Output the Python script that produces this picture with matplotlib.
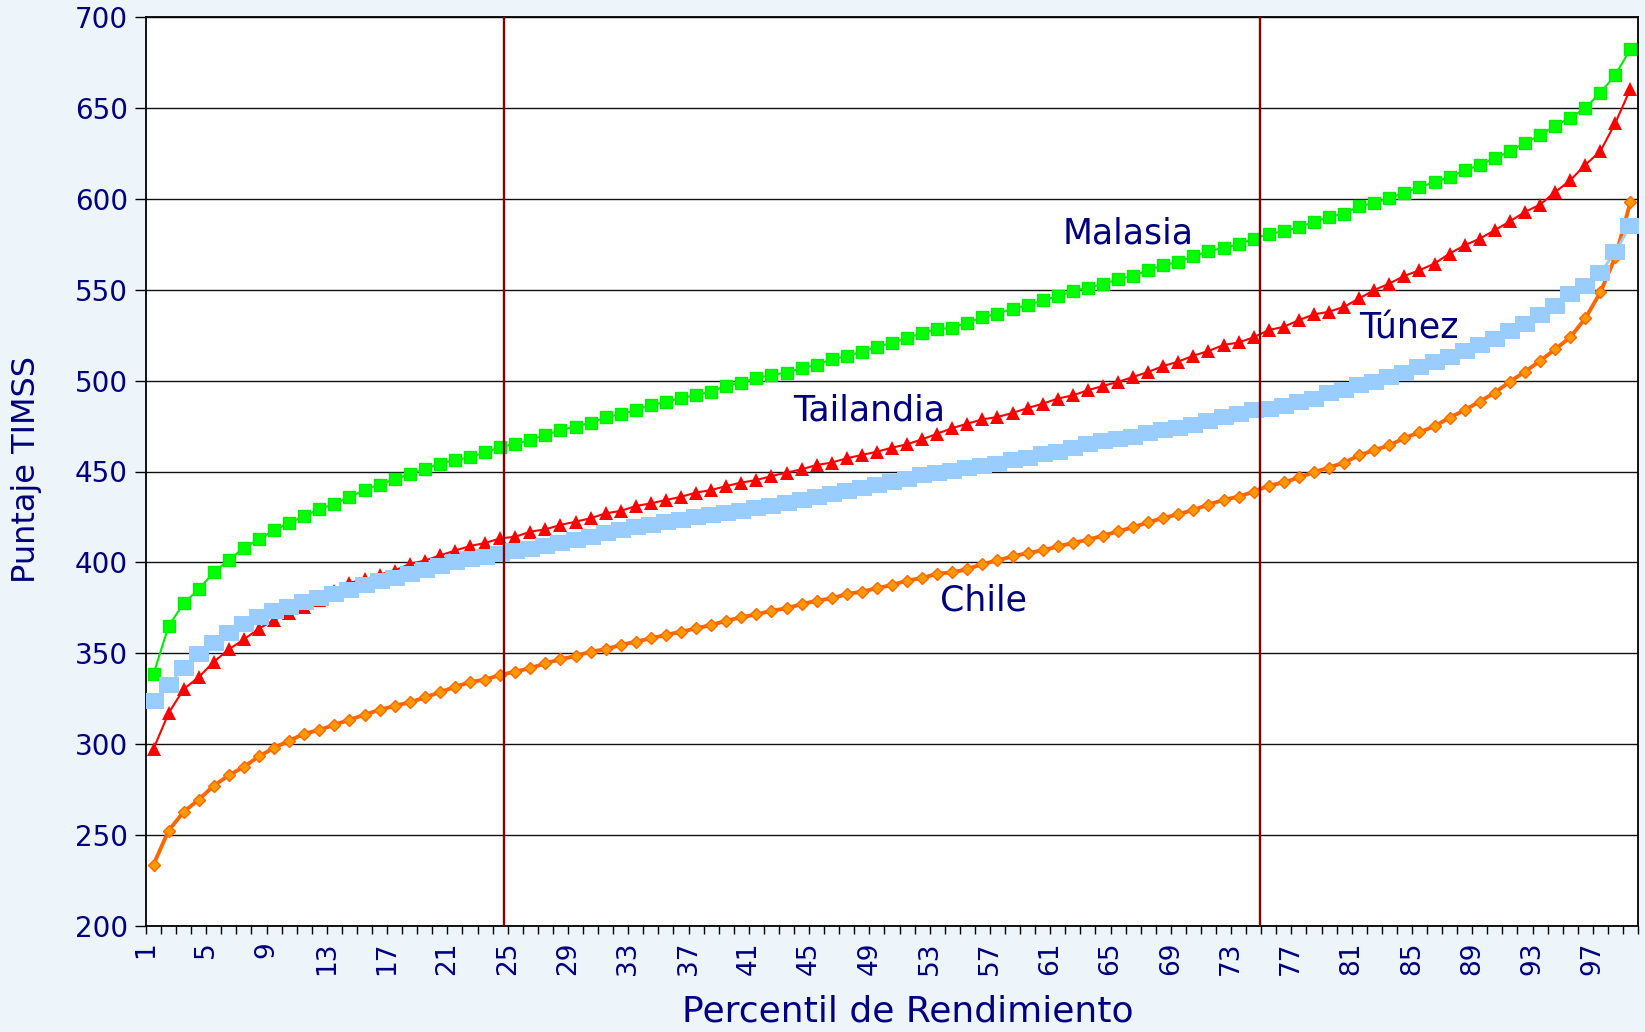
import numpy as np
import matplotlib.pyplot as plt
from matplotlib.path import Path

# percentil 1..99
percentil = np.arange(1, 100)

malasia = [338.7, 365.0, 377.5, 385.2, 394.6, 401.3, 408.1, 412.8, 417.6, 421.7,
           425.4, 429.3, 432.2, 435.9, 439.8, 442.8, 445.7, 448.5, 451.3, 454.4,
           456.3, 457.8, 460.6, 463.3, 465.3, 467.3, 470.1, 472.8, 474.6, 476.8,
           479.8, 481.6, 483.8, 486.4, 488.4, 490.3, 492.1, 493.9, 497.2, 498.9,
           501.3, 503.1, 504.4, 506.8, 508.6, 511.7, 513.5, 515.9, 518.5, 520.8,
           523.3, 526.2, 528.3, 529.0, 531.9, 534.9, 536.7, 539.6, 541.4, 544.2,
           546.4, 549.2, 551.2, 553.0, 555.8, 557.6, 560.7, 563.5, 565.3, 568.4,
           571.2, 573.0, 575.0, 578.1, 580.5, 582.3, 584.3, 587.3, 590.0, 591.8,
           595.9, 597.7, 600.4, 603.4, 606.3, 609.2, 612.0, 615.6, 618.6, 622.4,
           626.1, 630.8, 634.9, 640.3, 644.4, 649.9, 658.3, 668.2, 682.4]

tailandia = [297.5, 317.1, 330.3, 336.9, 345.3, 352.2, 357.7, 363.6, 368.3, 372.2,
             375.6, 379.5, 384.5, 388.8, 390.6, 393.3, 395.5, 399.2, 401.0, 403.8,
             406.5, 409.0, 410.7, 413.2, 414.1, 416.9, 418.2, 420.6, 422.4, 424.3,
             427.0, 428.3, 431.0, 432.5, 434.3, 436.1, 438.4, 439.8, 442.0, 443.9,
             445.3, 447.5, 449.4, 451.2, 453.6, 454.9, 457.3, 459.1, 460.9, 463.1,
             465.0, 467.7, 470.8, 473.9, 476.3, 478.7, 480.0, 482.2, 484.9, 487.3,
             490.1, 491.9, 494.7, 497.1, 499.3, 502.0, 504.8, 508.0, 510.5, 513.7,
             516.3, 519.6, 521.0, 523.8, 527.8, 529.6, 533.3, 536.4, 537.9, 540.6,
             545.2, 549.8, 553.4, 557.6, 560.7, 564.4, 569.9, 574.4, 578.1, 582.7,
             587.6, 592.8, 596.8, 603.7, 610.1, 618.7, 626.1, 641.8, 660.5]

tunez = [323.5, 332.7, 342.0, 349.7, 355.5, 361.2, 366.1, 369.8, 373.3, 375.5,
         378.0, 380.5, 382.4, 385.0, 387.7, 389.7, 391.4, 393.8, 395.8, 398.0,
         400.0, 401.8, 403.2, 404.6, 406.1, 407.6, 409.0, 410.5, 412.3, 414.1,
         416.0, 417.8, 419.2, 420.6, 422.0, 423.4, 424.8, 426.0, 427.3, 428.5,
         429.8, 431.0, 432.6, 434.2, 435.8, 437.4, 439.0, 440.7, 442.3, 444.0,
         445.8, 447.8, 448.9, 450.2, 451.7, 453.1, 454.4, 456.2, 457.5, 459.4,
         460.8, 463.0, 464.9, 466.7, 467.8, 469.1, 471.0, 472.6, 474.2, 475.8,
         478.0, 480.2, 481.8, 483.6, 484.5, 486.0, 488.4, 490.1, 493.4, 494.7,
         497.5, 499.4, 502.0, 504.3, 507.6, 510.2, 513.0, 516.3, 519.4, 523.0,
         527.2, 530.9, 535.9, 541.3, 547.4, 552.0, 559.3, 571.0, 585.3]

chile = [233.8, 252.5, 262.8, 269.5, 277.2, 282.9, 287.6, 293.3, 298.0, 301.9,
         305.8, 307.8, 310.7, 313.4, 316.2, 318.9, 321.1, 323.0, 325.7, 328.6,
         331.5, 334.2, 335.5, 338.1, 339.9, 341.8, 344.5, 346.7, 348.5, 350.9,
         352.2, 354.6, 356.4, 358.2, 360.1, 361.9, 363.7, 365.6, 367.9, 369.8,
         371.4, 373.4, 374.7, 377.1, 378.9, 380.2, 382.6, 383.9, 385.8, 387.6,
         390.0, 391.4, 393.8, 394.5, 396.3, 399.1, 401.1, 403.3, 405.2, 406.6,
         408.8, 410.7, 412.5, 414.7, 417.1, 419.3, 422.1, 424.4, 426.5, 428.9,
         431.8, 434.4, 436.2, 438.9, 442.2, 444.0, 446.7, 449.6, 452.2, 454.9,
         458.9, 461.8, 464.4, 468.4, 471.6, 474.9, 479.6, 483.8, 488.5, 493.4,
         499.4, 504.9, 510.8, 517.2, 523.8, 534.2, 548.5, 568.0, 598.3]

# label text + position (percentil, puntaje)
labels = {'Malasia': (65.7, 581.0), 'Tailandia': (48.5, 483.3),
          'Túnez': (84.3, 528.9), 'Chile': (56.1, 379.0)}
cortes = [24.26, 74.42]   # vertical reference lines

navy = '#000080'
bg = '#EEF5FA'

fig = plt.figure(figsize=(16.45, 10.32), dpi=100, facecolor=bg)
ax = fig.add_axes([146/1645, 1 - 926/1032, (1638-146)/1645, (926-17)/1032])
ax.set_facecolor('white')

# wide flat rectangle used by excel for the tunez series
rect = Path([(-1, -0.75), (1, -0.75), (1, 0.75), (-1, 0.75), (-1, -0.75)],
            [Path.MOVETO, Path.LINETO, Path.LINETO, Path.LINETO, Path.CLOSEPOLY])

ax.plot(percentil, malasia, color='#00EE00', lw=1.5, marker='s', ms=8,
        mfc='#00FF00', mec='#00EE00', zorder=3)
ax.plot(percentil, tailandia, color='#FF0000', lw=1.5, marker='^', ms=10,
        mfc='#FF0000', mec='#FF0000', mew=0, zorder=3)
ax.plot(percentil, chile, color='#FF6600', lw=2.8, marker='D', ms=6.5,
        mfc='#FF9900', mec='#FF6600', mew=1, zorder=4)
ax.plot(percentil, tunez, color='#99CCFF', lw=2, marker=rect, ms=14.5,
        mfc='#99CCFF', mec='#99CCFF', mew=0, zorder=5)

for xc in cortes:
    ax.axvline(xc, color='#8B0000', lw=1.7, zorder=6)

for name, (xt, yt) in labels.items():
    ax.text(xt, yt, name, color=navy, fontsize=25, ha='center', va='center', zorder=7)

ax.set_xlim(0.5, 99.5)
ax.set_ylim(200, 700)
ax.set_yticks(np.arange(200, 701, 50))
ax.yaxis.grid(True, color='#111111', lw=1)
ax.set_axisbelow(True)

xt = np.arange(0.5, 100, 1)
xl = [str(j + 1) if j % 4 == 0 else '' for j in range(len(xt))]
ax.set_xticks(xt)
ax.set_xticklabels(xl, rotation=90, fontsize=19, color=navy)
ax.tick_params(axis='x', direction='out', length=6, width=1, pad=5)
ax.tick_params(axis='y', direction='out', length=8, width=1, pad=5,
               labelsize=20, labelcolor=navy)

for s in ax.spines.values():
    s.set_color('black')
    s.set_linewidth(1.3)

fig.text(908/1645, 1 - 1012/1032, 'Percentil de Rendimiento', color=navy,
         fontsize=26, ha='center', va='center')
fig.text(26/1645, 1 - 470/1032, 'Puntaje TIMSS', color=navy, fontsize=23,
         rotation=90, ha='center', va='center')

plt.savefig('out.png', dpi=100, facecolor=bg)
